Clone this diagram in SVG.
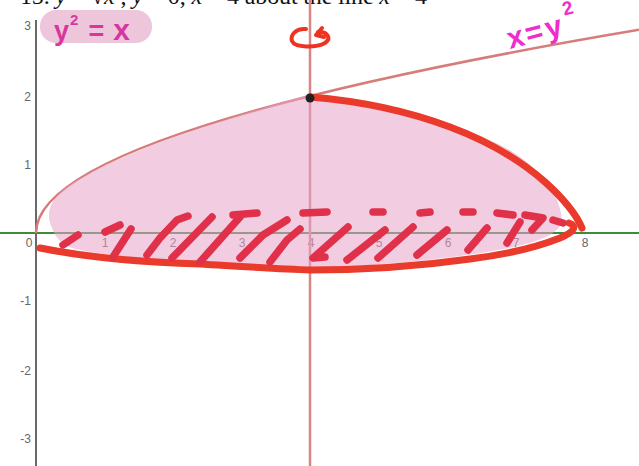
<svg xmlns="http://www.w3.org/2000/svg" width="639" height="466" viewBox="0 0 639 466">
<style>
.tick{font-family:"Liberation Sans",Arial,sans-serif;font-size:12px;fill:#666}
.hatch{fill:none;stroke:#e0304a;stroke-width:7.5;stroke-linecap:round;stroke-linejoin:round}
.outline{fill:none;stroke:#ea3a2c;stroke-width:7;stroke-linecap:round;stroke-linejoin:round}
.hand{font-family:"Liberation Sans",Arial,sans-serif;font-weight:bold}
</style>
<rect width="639" height="466" fill="#ffffff"/>
<g id="title">
<text x="20" y="4" font-family="Liberation Serif,'Times New Roman',serif" font-size="24" fill="#111" textLength="407" lengthAdjust="spacing">15. <tspan font-style="italic">y</tspan> = √<tspan font-style="italic">x</tspan> , <tspan font-style="italic">y</tspan> = 0, <tspan font-style="italic">x</tspan> = 4 about the line <tspan font-style="italic">x</tspan> = 4</text>
</g>
<g id="axes">
<line x1="36" y1="20" x2="36" y2="466" stroke="#444" stroke-width="1.6"/>
<line x1="0" y1="233" x2="639" y2="233" stroke="#3c8c3c" stroke-width="2"/>
</g>
<g id="ticks" class="tick">
<text x="29" y="247" text-anchor="middle">0</text>
<text x="105" y="247" text-anchor="middle">1</text>
<text x="173" y="247" text-anchor="middle">2</text>
<text x="242" y="247" text-anchor="middle">3</text>
<text x="311" y="247" text-anchor="middle">4</text>
<text x="379" y="247" text-anchor="middle">5</text>
<text x="448" y="247" text-anchor="middle">6</text>
<text x="516" y="247" text-anchor="middle">7</text>
<text x="585" y="247" text-anchor="middle">8</text>
<text x="31" y="30" text-anchor="end">3</text>
<text x="31" y="101" text-anchor="end">2</text>
<text x="31" y="169" text-anchor="end">1</text>
<text x="31" y="305" text-anchor="end">-1</text>
<text x="31" y="375" text-anchor="end">-2</text>
<text x="31" y="443" text-anchor="end">-3</text>
</g>
<g id="line-x4">
<line x1="310" y1="0" x2="310" y2="466" stroke="#d98585" stroke-width="2.5"/>
</g>
<g id="curve">
<path d="M36,233 Q36,131.4 639,29.8" fill="none" stroke="#d67c7a" stroke-width="2.6"/>
</g>
<g id="region">
<path d="M52,228 C44,212 52,198 68,186 C120,152 220,120 310,94 C380,100 450,118 510,150 C545,172 562,200 562,222 C556,238 530,246 460,256 C400,264 340,268 300,267 C200,264 110,258 72,248 C60,244 55,236 52,228 Z" fill="#e7a3c8" fill-opacity="0.55"/>
</g>
<g id="outline">
<path class="outline" d="M310,97 C360,101 410,112 450,127 C490,142 520,160 545,182 C565,200 576,214 582,228"/>
<path class="outline" d="M40,248 C80,256 130,262 200,264 C250,267 280,269 310,270 C370,270 420,266 470,259 C510,254 540,246 560,238 C574,232 578,226 569,223"/>
</g>
<g id="hatching" class="hatch">
<path d="M63,245 L78,235"/>
<path d="M105,232 L120,225"/>
<path d="M113,257 L131,229"/>
<path d="M147,255 L160,238 L177,220 L188,216"/>
<path d="M172,258 L212,217"/>
<path d="M200,262 L240,217"/>
<path d="M233,215 L257,213"/>
<path d="M240,258 L263,235 L287,220"/>
<path d="M270,262 L287,240 L300,229"/>
<path d="M303,213 L327,212"/>
<path d="M348,227 L313,258 L325,257"/>
<path d="M347,260 L385,230"/>
<path d="M373,212 L383,212"/>
<path d="M378,258 L413,227"/>
<path d="M420,213 L430,212"/>
<path d="M417,255 L447,230"/>
<path d="M463,212 L473,212"/>
<path d="M468,250 L487,228"/>
<path d="M497,213 L513,215"/>
<path d="M507,243 L520,222"/>
<path d="M525,215 L543,218 L532,230"/>
<path d="M553,220 L563,223"/>
</g>
<g id="point">
<circle cx="310" cy="98" r="4.5" fill="#222"/>
</g>
<g id="rotation">
<path d="M306,29 C296,28 290,35 292,41 C295,48 316,48 325,43 C332,38 327,31 318,32" fill="none" stroke="#ee3322" stroke-width="4" stroke-linecap="round"/>
<path d="M322,28 L316,35 L324,37" fill="none" stroke="#ee3322" stroke-width="4" stroke-linecap="round" stroke-linejoin="round"/>
</g>
<g id="label-left">
<rect x="40" y="10" width="112" height="33" rx="16" fill="#eec6dc"/>
<text class="hand" x="54" y="40" font-size="27" fill="#d8369f">y<tspan font-size="15" dy="-15" dx="1">2</tspan><tspan dy="15" dx="10">=</tspan><tspan dx="9" font-size="30">x</tspan></text>
</g>
<g id="label-right">
<text class="hand" x="510" y="49" font-size="30" fill="#f02ccc" transform="rotate(-15 510 49)">x<tspan dx="2">=</tspan><tspan dx="3">y</tspan><tspan font-size="19" dy="-18" dx="5">2</tspan></text>
</g>
</svg>
